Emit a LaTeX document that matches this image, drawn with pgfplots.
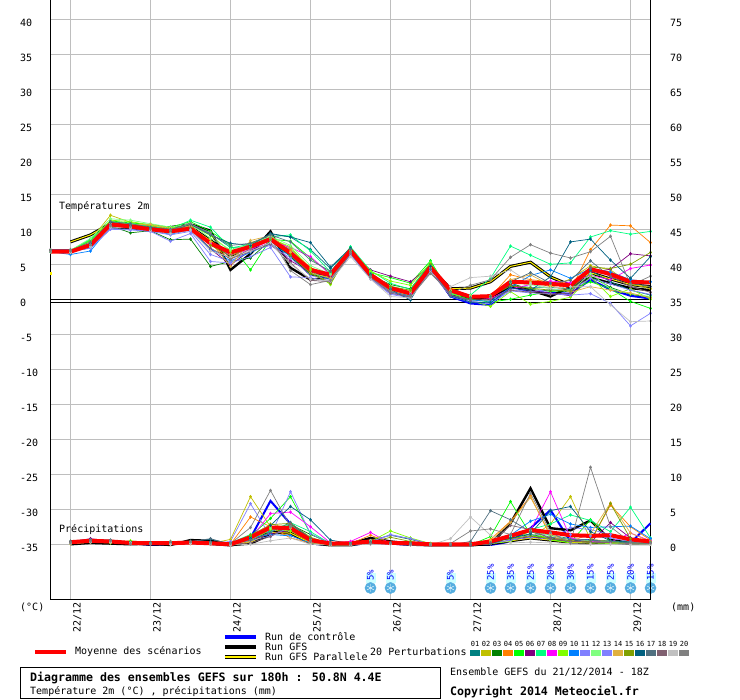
\documentclass[border=0pt]{standalone}
\usepackage{fontspec}
\usepackage{pgfplots}
\usepackage{pgfplotstable}
\pgfplotsset{compat=1.18}
\setmainfont{DejaVu Sans Mono}
\setmonofont{DejaVu Sans Mono}
\definecolor{c01}{HTML}{008080}\definecolor{c02}{HTML}{C0C000}\definecolor{c03}{HTML}{008000}\definecolor{c04}{HTML}{FF8000}
\definecolor{c05}{HTML}{00FF00}\definecolor{c06}{HTML}{800080}\definecolor{c07}{HTML}{00FF80}\definecolor{c08}{HTML}{FF00FF}
\definecolor{c09}{HTML}{80FF00}\definecolor{c10}{HTML}{0080FF}\definecolor{c11}{HTML}{8080FF}\definecolor{c12}{HTML}{80FF80}
\definecolor{c13}{HTML}{8080FF}\definecolor{c14}{HTML}{E0B040}\definecolor{c15}{HTML}{80A000}\definecolor{c16}{HTML}{006080}
\definecolor{c17}{HTML}{507080}\definecolor{c18}{HTML}{806070}\definecolor{c19}{HTML}{C0C0C0}\definecolor{c20}{HTML}{808080}
\definecolor{gridc}{HTML}{BEBEBE}\definecolor{ice}{HTML}{CCFFFF}\definecolor{flake}{HTML}{55AEE0}
\pgfplotstableread{
k p01 p02 p03 p04 p05 p06 p07 p08 p09 p10 p11 p12 p13 p14 p15 p16 p17 p18 p19 p20 c g par m
0 7.0 7.1 6.9 7.0 7.1 7.2 6.9 7.0 7.1 6.9 7.0 7.1 7.0 7.0 6.9 7.0 7.1 7.0 6.9 7.0 7.0 7.0 nan 6.9
1 6.9 7.1 6.8 7.0 7.1 7.2 7.0 6.9 7.1 6.5 6.9 7.1 6.9 7.0 6.8 7.0 7.1 6.9 6.8 7.0 6.9 7.0 8.3 6.9
2 8.0 8.6 7.8 8.1 8.5 7.6 8.7 7.9 8.4 7.0 7.5 8.8 7.4 8.2 7.8 8.1 8.3 7.7 7.6 7.9 7.9 7.6 9.3 7.85
3 11.0 12.1 10.6 11.2 11.3 10.7 11.1 10.9 11.4 10.5 10.2 11.6 10.1 11.0 10.6 11.1 11.2 10.7 10.4 10.6 10.8 10.4 10.9 10.8
4 10.7 11.1 9.6 10.8 11.0 10.3 10.9 10.6 11.2 10.3 10.1 11.4 10.0 10.8 10.4 10.7 10.9 10.4 10.3 10.5 10.5 10.3 10.7 10.5
5 10.3 10.6 9.9 10.6 10.8 10.0 10.5 10.2 10.7 9.9 9.8 10.9 9.8 10.8 10.1 10.3 10.4 10.0 9.9 10.1 10.1 9.9 10.3 10.1
6 10.0 10.2 8.6 10.0 10.4 9.5 10.1 9.7 10.3 9.4 9.3 10.4 8.4 10.2 9.8 9.9 10.1 9.6 9.5 9.9 9.8 10.4 10.0 9.8
7 10.8 10.6 8.7 10.5 11.2 10.2 11.4 10.5 10.7 10.0 9.8 10.9 9.5 10.6 10.3 10.8 10.9 10.1 10.0 10.9 10.2 10.8 10.4 10.2
8 9.5 8.3 4.8 8.0 9.8 7.3 10.4 8.1 9.2 7.3 6.5 8.8 5.5 8.3 7.8 9.3 9.4 7.4 7.0 9.6 8.2 9.9 8.5 8.1
9 7.5 6.6 5.5 5.8 7.9 5.0 7.4 6.4 7.0 5.6 5.5 7.2 5.3 4.8 6.3 8.1 7.8 5.9 6.1 5.8 6.5 4.3 6.3 6.8
10 7.6 8.2 6.0 8.0 4.3 7.1 8.0 7.2 7.7 6.8 7.0 7.9 6.2 8.5 7.5 7.8 8.1 6.9 7.0 7.3 7.6 6.6 7.9 7.6
11 9.4 9.0 8.5 9.0 8.7 8.2 9.0 8.5 8.8 8.0 7.8 9.1 7.5 9.2 8.6 9.5 9.3 8.0 8.2 8.9 8.8 9.8 8.7 8.7
12 9.0 7.3 6.2 7.0 8.4 5.6 9.3 7.5 7.6 6.3 6.0 7.8 3.3 6.8 6.4 9.0 8.3 5.3 5.1 4.2 7.0 4.6 6.5 6.7
13 7.2 4.6 3.7 4.6 6.0 4.0 7.0 6.2 4.3 3.9 3.5 4.9 3.2 3.9 3.8 8.2 5.7 2.8 3.0 2.2 4.1 2.9 3.7 4.3
14 4.5 3.6 3.0 3.4 3.8 3.3 4.0 3.6 2.2 3.0 2.9 3.7 2.6 3.1 2.4 4.7 4.1 2.6 2.7 2.8 3.4 3.2 3.3 3.6
15 7.4 7.2 6.9 7.2 7.5 6.8 7.6 7.0 7.3 6.9 6.6 7.3 6.5 7.1 6.9 7.4 7.2 6.6 6.2 6.8 7.0 7.1 7.0 7.1
16 3.9 3.7 3.5 3.4 3.9 4.3 4.2 3.4 4.1 3.3 3.1 3.8 3.0 3.4 3.6 3.7 3.5 3.2 3.0 3.3 3.5 3.4 3.6 3.6
17 1.9 1.8 2.2 1.4 3.2 3.4 2.4 1.5 2.7 1.2 0.9 2.0 0.8 1.3 1.9 1.5 1.6 1.0 0.5 1.2 1.3 1.6 1.7 1.7
18 0.4 1.0 1.6 0.8 2.4 2.6 1.5 0.9 2.1 0.5 0.4 1.3 0.3 0.7 1.4 0.0 0.7 0.4 0.3 0.5 0.4 0.9 0.9 0.95
19 5.0 4.8 5.2 4.7 5.6 4.9 5.4 4.5 5.3 4.4 4.2 4.9 4.1 4.6 5.0 4.8 4.4 4.0 3.9 3.8 4.6 4.8 4.6 4.7
20 1.3 1.5 1.1 1.2 0.9 1.4 0.8 1.2 1.0 0.7 0.6 1.3 0.5 1.4 1.2 0.6 1.1 0.7 1.9 1.0 0.5 0.6 1.6 1.4
21 0.3 0.6 0.3 0.4 0.1 0.5 0.7 0.5 -0.1 0.0 -0.2 0.6 -0.3 0.5 0.3 -0.3 0.3 0.0 3.2 2.1 -0.5 0.2 1.7 0.45
22 0.6 0.4 0.6 0.5 -0.3 0.5 3.1 0.2 -0.9 -0.2 -0.4 0.4 -0.5 0.6 0.5 -0.4 0.5 0.1 3.4 2.9 -0.7 0.1 2.6 0.55
23 2.1 2.8 2.4 3.6 0.1 2.2 7.7 1.6 1.2 1.8 1.5 2.5 1.3 2.9 2.0 1.7 2.6 1.4 4.3 6.1 1.9 2.0 4.8 2.6
24 1.8 2.6 1.5 2.9 0.7 1.3 6.4 2.2 -0.6 3.5 1.2 2.2 1.0 3.6 1.7 1.4 3.9 1.1 2.4 7.9 1.2 1.4 5.4 2.5
25 1.8 1.9 1.3 2.6 1.2 1.0 5.1 2.7 -0.2 4.3 1.5 1.6 0.9 2.1 1.4 3.3 2.4 0.8 1.7 6.7 1.0 0.5 3.3 2.3
26 1.6 3.0 1.2 1.3 1.5 0.6 5.3 2.5 0.4 3.1 1.4 1.2 0.7 1.1 1.3 8.3 2.8 1.0 1.9 6.0 0.9 1.9 2.1 2.1
27 4.2 4.9 3.4 7.2 2.6 3.9 9.0 3.5 3.3 4.5 3.1 3.8 0.9 1.9 4.7 8.7 5.6 4.6 1.9 6.9 2.9 3.2 3.9 4.4
28 2.6 4.3 1.8 10.7 1.6 4.4 9.9 2.9 0.5 4.0 2.3 1.6 -0.5 1.4 4.5 5.7 3.3 3.4 -0.7 9.1 1.5 2.4 3.0 3.7
29 1.4 2.3 0.8 10.6 -0.2 6.6 9.4 4.5 1.6 2.9 1.4 0.9 -3.7 1.0 5.1 3.1 2.4 1.9 -3.1 2.1 0.6 1.7 2.2 2.6
30 0.7 1.6 0.4 8.2 -1.2 6.3 9.8 5.0 0.1 2.6 0.8 0.5 -1.9 0.3 6.8 6.2 1.9 1.1 -3.0 3.4 0.2 1.4 1.9 2.5
}\Temp
\pgfplotstableread{
k p01 p02 p03 p04 p05 p06 p07 p08 p09 p10 p11 p12 p13 p14 p15 p16 p17 p18 p19 p20 c g par m
1 0.4 0.3 0.4 0.2 0.5 0.5 0.3 0.4 0.2 0.4 0.3 0.4 0.3 0.2 0.4 0.3 0.5 0.4 0.2 0.3 0.3 0.1 0.3 0.4
2 0.5 0.6 0.6 0.4 0.7 0.9 0.5 0.6 0.4 0.6 0.5 0.7 0.5 0.4 0.6 0.5 0.7 0.6 0.4 0.5 0.6 0.3 0.6 0.6
3 0.5 0.4 0.6 0.4 0.5 0.6 0.5 0.5 0.3 0.5 0.4 0.5 0.5 0.4 0.6 0.6 0.7 0.5 0.4 0.6 0.5 0.2 0.5 0.5
4 0.3 0.2 0.3 0.2 0.4 0.3 0.4 0.3 0.6 0.3 0.3 0.3 0.2 0.3 0.3 0.4 0.3 0.2 0.3 0.2 0.3 0.1 0.3 0.3
5 0.2 0.3 0.3 0.2 0.3 0.2 0.2 0.2 0.3 0.2 0.1 0.3 0.2 0.2 0.2 0.3 0.2 0.1 0.2 0.2 0.0 0.2 0.1 0.25
6 0.2 0.2 0.3 0.1 0.3 0.2 0.3 0.2 0.5 0.3 0.2 0.3 0.2 0.2 0.2 0.3 0.3 0.2 0.1 0.5 0.1 0.0 0.2 0.25
7 0.4 0.3 0.5 0.2 0.4 0.3 0.4 0.4 0.3 0.4 0.3 0.4 0.3 0.3 0.4 0.5 0.5 0.3 0.2 0.5 0.3 0.7 0.4 0.35
8 0.3 0.2 0.4 0.2 0.3 0.2 0.3 0.3 0.2 0.4 0.2 0.3 0.2 0.2 0.3 0.8 0.9 0.2 0.2 0.3 0.2 0.6 0.2 0.25
9 0.3 0.8 0.3 0.1 0.2 0.1 0.3 0.2 0.1 0.2 0.5 0.1 0.1 0.1 0.2 0.2 0.1 0.1 0.0 0.2 0.0 0.0 0.0 0.1
10 0.9 6.9 1.1 4.0 1.3 0.7 1.5 0.9 0.6 1.0 5.9 0.8 0.6 0.5 1.4 0.9 0.7 0.3 0.1 2.5 1.0 0.2 0.4 1.1
11 2.0 2.6 2.4 2.6 3.8 1.6 1.9 4.5 2.2 1.5 1.2 2.4 1.3 3.0 2.9 2.8 1.8 1.2 0.6 7.8 6.3 1.5 1.8 2.5
12 3.0 2.0 2.9 1.0 6.9 2.1 3.2 4.7 2.0 1.3 2.6 2.9 7.6 2.4 3.1 5.5 3.2 2.9 1.0 2.6 3.0 2.8 1.7 2.4
13 0.9 0.3 1.5 0.3 1.6 0.5 1.9 2.6 0.8 0.3 0.4 0.7 1.6 0.3 1.1 3.6 0.9 0.6 0.1 0.5 0.2 0.8 0.3 0.7
14 0.2 0.0 0.3 0.4 0.2 0.1 0.2 0.3 0.2 0.1 0.1 0.1 0.2 0.1 0.2 0.7 0.3 0.1 0.0 0.1 0.0 0.1 0.0 0.2
15 0.1 0.1 0.1 0.2 0.3 0.1 0.1 0.5 0.1 0.1 0.1 0.2 0.1 0.1 0.1 0.2 0.1 0.0 0.0 0.1 0.0 0.2 0.0 0.25
16 0.4 0.5 0.6 1.4 0.3 0.4 0.3 1.8 0.5 0.5 0.4 0.6 0.5 0.3 0.4 0.3 0.4 0.2 0.1 0.2 0.3 1.0 0.5 0.5
17 0.3 0.3 1.4 0.3 0.2 0.2 0.3 0.2 2.0 0.3 1.5 0.3 1.4 0.2 1.1 0.3 0.3 0.2 0.1 0.2 0.2 0.5 0.3 0.3
18 0.2 0.1 0.8 0.1 0.1 0.1 0.2 0.1 1.0 0.2 0.9 0.1 0.9 0.1 0.5 0.1 0.2 0.0 0.0 0.1 0.0 0.2 0.1 0.25
19 0.1 0.0 0.1 0.0 0.2 0.0 0.1 0.0 0.2 0.0 0.1 0.0 0.1 0.0 0.1 0.0 0.0 0.0 0.0 0.0 0.0 0.0 0.0 0.1
20 0.0 0.0 0.0 0.0 0.1 0.0 0.0 0.0 0.1 0.0 0.0 0.0 0.0 0.0 0.0 0.0 0.0 0.0 0.9 0.2 0.0 0.0 0.0 0.1
21 0.1 0.0 0.0 0.1 0.0 0.0 0.1 0.0 0.0 0.0 0.0 0.0 0.0 0.0 0.0 0.0 0.5 0.0 4.0 2.0 0.0 0.0 0.0 0.1
22 0.3 0.2 0.3 0.8 1.2 0.2 0.4 0.2 0.2 0.3 0.2 0.3 0.2 0.6 0.2 0.2 4.9 0.3 1.4 2.3 0.0 0.1 0.2 0.5
23 1.2 0.9 1.0 3.4 6.2 0.7 1.3 1.1 0.5 1.4 0.8 1.2 0.7 3.2 0.9 1.0 3.6 2.8 0.3 1.5 0.5 3.1 0.6 1.3
24 2.0 1.0 1.5 7.0 1.5 1.2 2.2 2.1 2.0 3.4 1.4 2.1 1.1 6.8 1.3 1.6 1.9 2.2 0.4 7.4 2.4 8.1 1.0 2.15
25 1.4 3.0 1.0 1.2 0.8 0.9 3.0 7.6 0.7 4.4 1.6 1.3 0.8 1.5 0.9 4.9 1.1 0.9 0.3 1.8 5.0 2.4 0.7 1.8
26 0.9 6.9 0.6 0.4 0.4 0.5 4.3 1.0 0.3 3.0 1.5 0.8 2.5 0.5 0.6 5.5 0.8 0.5 0.2 0.3 0.5 2.1 0.4 1.4
27 0.7 0.8 0.4 0.6 3.6 0.4 3.5 0.5 0.3 2.5 1.3 0.6 2.2 1.6 0.5 1.9 0.7 0.4 0.1 11.1 0.7 3.5 0.3 1.3
28 0.6 0.5 0.3 5.7 0.5 3.2 1.9 0.4 0.2 2.6 1.0 0.5 1.5 6.0 5.9 0.6 0.5 0.3 0.1 2.6 0.3 0.7 0.4 1.4
29 0.4 0.3 0.2 2.6 0.3 1.0 5.4 1.7 0.2 2.7 0.5 0.4 0.5 1.7 0.9 0.4 0.3 0.2 0.1 0.4 0.3 0.3 0.2 0.8
30 0.3 0.2 0.2 0.7 0.2 0.4 1.0 0.6 0.1 0.9 0.4 0.3 0.3 0.5 0.4 0.3 0.2 0.1 0.1 0.3 3.1 0.4 0.2 0.5
}\Prec
\pgfplotstableread{
k pct
16 5
17 5
20 5
22 25
23 35
24 25
25 20
26 30
27 15
28 25
29 20
30 15
}\Snow
\pgfplotsset{
  pert/.style={line width=0.7pt, mark=diamond*, mark size=1.3pt, mark options={solid}},
  base/.style={scale only axis, width=600pt, height=600pt, at={(50.5pt,100pt)}, anchor=south west,
    xmin=0, xmax=30, clip=false, tick style={draw=none}, axis line style={black, line width=1pt}},
}
\newcommand{\TP}[2]{\addplot[pert, color=#2] table[x=k, y=#1] {\Temp};}
\newcommand{\PP}[2]{\addplot[pert, color=#2] table[x=k, y=#1] {\Prec};}
\begin{document}
\begin{tikzpicture}[font=\fontsize{10}{12}\selectfont]
\path[use as bounding box] (0,0) rectangle (740pt,700pt);
\begin{axis}[base,
  ymin=-42.857, ymax=42.857,
  axis x line*=bottom, axis y line*=left,
  xtick={1,5,9,13,17,21,25,29},
  xticklabels={22/12,23/12,24/12,25/12,26/12,27/12,28/12,29/12},
  xticklabel style={rotate=90, anchor=east, inner sep=0pt, xshift=-2pt, yshift=-7pt},
  ytick={-35,-30,...,40},
  yticklabels={-35,-30,-25,-20,-15,-10,-5,0,5,10,15,20,25,30,35,40},
  yticklabel style={anchor=west, inner sep=0pt, xshift=-30.5pt, yshift=-2.5pt},
  grid=major, grid style={gridc, line width=1pt},
]
\addplot[black, line width=0.9pt] coordinates {(0,0.07) (30,0.07)};
\addplot[black, line width=0.9pt] coordinates {(0,-0.29) (30,-0.29)};
\addplot[blue, line width=2pt] table[x=k, y=c] {\Temp};
\addplot[black, line width=2.4pt] table[x=k, y=g] {\Temp};
\addplot[black, line width=3pt] table[x=k, y=par] {\Temp};
\addplot[yellow, line width=1pt] table[x=k, y=par] {\Temp};
\TP{p01}{c01}\TP{p02}{c02}\TP{p03}{c03}\TP{p04}{c04}\TP{p05}{c05}
\TP{p06}{c06}\TP{p07}{c07}\TP{p08}{c08}\TP{p09}{c09}\TP{p10}{c10}
\TP{p11}{c11}\TP{p12}{c12}\TP{p13}{c13}\TP{p14}{c14}\TP{p15}{c15}
\TP{p16}{c16}\TP{p17}{c17}\TP{p18}{c18}\TP{p19}{c19}\TP{p20}{c20}
\addplot[only marks, mark=square*, mark size=0.8pt, yellow] coordinates {(0,3.8)};
\addplot[red, line width=4pt, line join=round] table[x=k, y=m] {\Temp};
% snow
\addplot[only marks, mark=square*, mark size=4.6pt, ice] table[x=k, y expr=-39.64] {\Snow};
\addplot[only marks, mark=*, mark size=5.6pt, flake] table[x=k, y expr=-41.14] {\Snow};
\addplot[only marks, mark=asterisk, mark size=4pt, white, line width=0.4pt] table[x=k, y expr=-41.14] {\Snow};
\addplot[draw=none, point meta=explicit symbolic,
  nodes near coords={\pgfplotspointmeta\%},
  every node near coord/.style={rotate=90, anchor=west, inner sep=0pt, text=blue,
    font=\fontsize{9}{10}\selectfont}]
  table[x=k, y expr=-40.14, meta=pct] {\Snow};
\end{axis}
\begin{axis}[base,
  ymin=-7.857, ymax=77.857,
  axis x line=none, axis y line*=right,
  ytick={0,5,...,75},
  yticklabels={0,5,10,15,20,25,30,35,40,45,50,55,60,65,70,75},
  yticklabel style={anchor=west, inner sep=0pt, xshift=19.5pt, yshift=-2.5pt},
]
\addplot[blue, line width=2pt] table[x=k, y=c] {\Prec};
\addplot[black, line width=2.4pt] table[x=k, y=g] {\Prec};
\addplot[black, line width=3pt] table[x=k, y=par] {\Prec};
\addplot[yellow, line width=1pt] table[x=k, y=par] {\Prec};
\PP{p01}{c01}\PP{p02}{c02}\PP{p03}{c03}\PP{p04}{c04}\PP{p05}{c05}
\PP{p06}{c06}\PP{p07}{c07}\PP{p08}{c08}\PP{p09}{c09}\PP{p10}{c10}
\PP{p11}{c11}\PP{p12}{c12}\PP{p13}{c13}\PP{p14}{c14}\PP{p15}{c15}
\PP{p16}{c16}\PP{p17}{c17}\PP{p18}{c18}\PP{p19}{c19}\PP{p20}{c20}
\addplot[red, line width=4pt, line join=round] table[x=k, y=m] {\Prec};
\end{axis}
\begin{scope}[x=1pt, y=-1pt, yshift=700pt, every node/.style={anchor=west, inner sep=0pt}]
\node at (59,207) {Températures 2m};
\node at (59,530) {Précipitations};
\node at (20,607) {(°C)};
\node at (671,607) {(mm)};
\draw[red, line width=4pt] (35,652) -- (66,652);
\node at (75,652) {Moyenne des scénarios};
\draw[blue, line width=4pt] (225,637) -- (256,637);
\node at (265,637) {Run de contrôle};
\draw[black, line width=4pt] (225,647) -- (256,647);
\node at (265,647) {Run GFS};
\draw[black, line width=4pt] (225,657) -- (256,657);
\draw[yellow, line width=1.2pt] (225,657) -- (256,657);
\node at (265,657) {Run GFS Parallele};
\node at (370,652) {20 Perturbations};
\foreach \i/\col in {0/c01,1/c02,2/c03,3/c04,4/c05,5/c06,6/c07,7/c08,8/c09,9/c10,10/c11,11/c12,12/c13,13/c14,14/c15,15/c16,16/c17,17/c18,18/c19,19/c20}{
  \fill[\col] ({470+11*\i},650) rectangle ({480+11*\i},656);
}
\foreach \i/\t in {0/01,1/02,2/03,3/04,4/05,5/06,6/07,7/08,8/09,9/10,10/11,11/12,12/13,13/14,14/15,15/16,16/17,17/18,18/19,19/20}{
  \node[anchor=center, font=\fontsize{7}{8}\selectfont] at ({475+11*\i},644) {\t};
}
\draw[black, line width=1pt] (20.5,667.5) rectangle (440.5,698.5);
\node[font=\fontsize{11.6}{12}\selectfont\bfseries] at (30,677.5) {Diagramme des ensembles GEFS sur 180h : 50.8N 4.4E};
\node at (30,692) {Température 2m (°C) , précipitations (mm)};
\node at (450,672) {Ensemble GEFS du 21/12/2014 - 18Z};
\node[font=\fontsize{11.6}{12}\selectfont\bfseries] at (450,692) {Copyright 2014 Meteociel.fr};
\end{scope}
\end{tikzpicture}
\end{document}
